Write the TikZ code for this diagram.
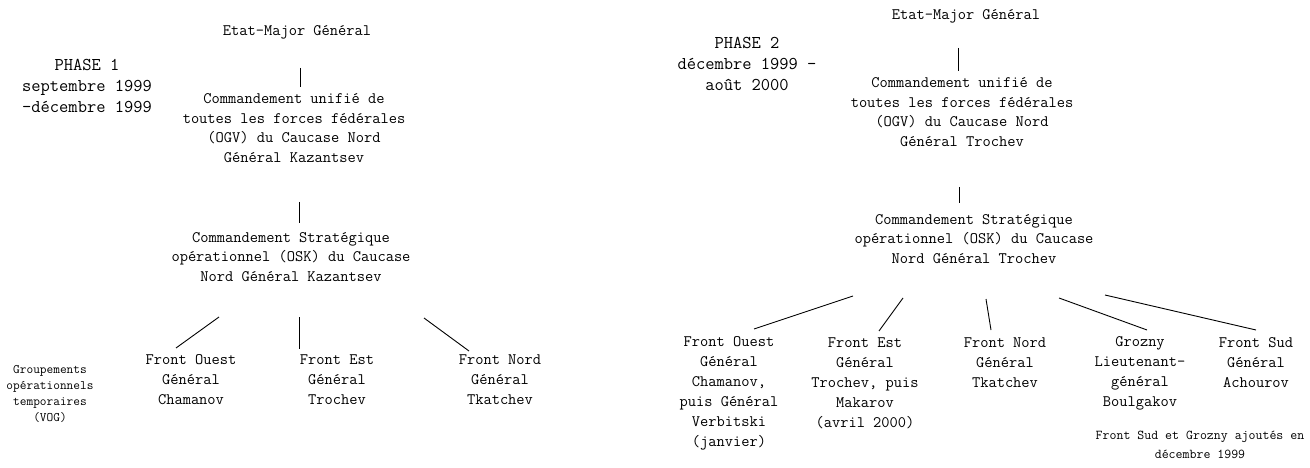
\documentclass[tikz,border=0pt]{standalone}
\usepackage{fontspec}
\usetikzlibrary{calc}

\begin{document}
\begin{tikzpicture}[
  x=1pt, y=-1pt,
  every node/.style={align=center, inner sep=0pt, text=black},
  cmd/.style  ={font=\ttfamily\fontsize{16}{19.5}\selectfont},
  front/.style={font=\ttfamily\fontsize{16}{20}\selectfont},
  phase/.style={font=\ttfamily\fontsize{18}{21}\selectfont},
  small/.style={font=\ttfamily\fontsize{13}{16}\selectfont},
  note/.style ={font=\ttfamily\fontsize{13.5}{19}\selectfont},
  link/.style ={draw=black, line width=0.9pt},
]
\useasboundingbox (0,0) rectangle (1310,468);

% -------- phase 1 ---------------------------------------------------------
\node[phase] (ph1)  at (87,86)   {PHASE 1\\septembre 1999\\-décembre 1999};
\node[cmd]   (em1)  at (297,32)  {Etat-Major Général};
\node[cmd]   (ogv1) at (294,128) {Commandement unifié de\\toutes les forces fédérales\\(OGV) du Caucase Nord\\Général Kazantsev};
\node[cmd]   (osk1) at (291,257) {Commandement Stratégique\\opérationnel (OSK) du Caucase\\Nord Général Kazantsev};

% fronts of phase 1
\node[small] (vog)  at (50,394)  {Groupements\\opérationnels\\temporaires\\(VOG)};
\node[front] (fo1)  at (191,380) {Front Ouest\\Général\\Chamanov};
\node[front] (fe1)  at (337,380) {Front Est\\Général\\Trochev};
\node[front] (fn1)  at (500,380) {Front Nord\\Général\\Tkatchev};

% links phase 1
\draw[link] ($(em1)+(3,36)$)     -- ($(ogv1)+(6,-41)$);
\draw[link] ($(ogv1)+(5,74)$)    -- ($(osk1)+(8,-34)$);
\draw[link] ($(osk1)+(-72,60)$)  -- ($(fo1)+(-15,-32)$);
\draw[link] ($(osk1)+(8,60)$)    -- ($(fe1)+(-38,-31)$);
\draw[link] ($(osk1)+(133,61)$)  -- ($(fn1)+(-31,-29)$);

% -------- phase 2 ---------------------------------------------------------
\node[phase] (ph2)  at (747,64)  {PHASE 2\\décembre 1999 -\\août 2000};
\node[cmd]   (em2)  at (966,16)  {Etat-Major Général};
\node[cmd]   (ogv2) at (962,112) {Commandement unifié de\\toutes les forces fédérales\\(OGV) du Caucase Nord\\Général Trochev};
\node[cmd]   (osk2) at (974,239) {Commandement Stratégique\\opérationnel (OSK) du Caucase\\Nord Général Trochev};

% fronts of phase 2
\node[front] (fo2)  at (729,393)  {Front Ouest\\Général\\Chamanov,\\puis Général\\Verbitski\\(janvier)};
\node[front] (fe2)  at (865,383)  {Front Est\\Général\\Trochev, puis\\Makarov\\(avril 2000)};
\node[front] (fn2)  at (1005,363) {Front Nord\\Général\\Tkatchev};
\node[front] (gz2)  at (1140,373) {Grozny\\Lieutenant-\\général\\Boulgakov};
\node[front] (fs2)  at (1256,363) {Front Sud\\Général\\Achourov};
\node[note]  (nt2)  at (1200,445) {Front Sud et Grozny ajoutés en\\décembre 1999};

% links phase 2
\draw[link] ($(em2)+(-8,32)$)    -- ($(ogv2)+(-4,-41)$);
\draw[link] ($(ogv2)+(-3,75)$)   -- ($(osk2)+(-15,-36)$);
\draw[link] ($(osk2)+(-121,57)$) -- ($(fo2)+(25,-64)$);
\draw[link] ($(osk2)+(-71,59)$)  -- ($(fe2)+(14,-52)$);
\draw[link] ($(osk2)+(12,60)$)   -- ($(fn2)+(-14,-33)$);
\draw[link] ($(osk2)+(85,59)$)   -- ($(gz2)+(7,-43)$);
\draw[link] ($(osk2)+(131,56)$)  -- ($(fs2)+(0,-33)$);

\end{tikzpicture}
\end{document}
